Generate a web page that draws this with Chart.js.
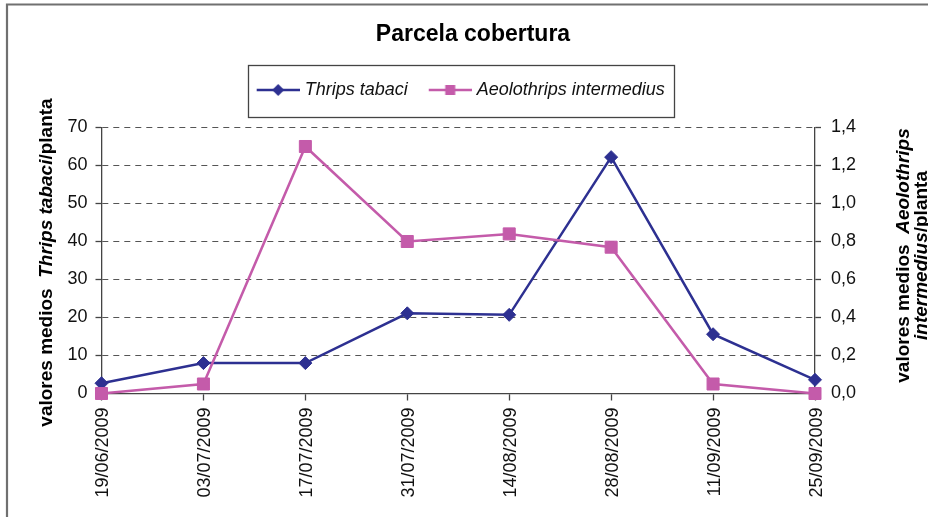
<!DOCTYPE html>
<html><head><meta charset="utf-8">
<script src="https://cdn.jsdelivr.net/npm/chart.js@4/dist/chart.umd.min.js"></script>
<style>html,body{margin:0;padding:0;background:#fff;}canvas{display:block;}</style>
</head><body>
<canvas id="c" width="928" height="517" style="width:928px;height:517px"></canvas>
<script>
// ---- data ----
const categories = ['19/06/2009','03/07/2009','17/07/2009','31/07/2009','14/08/2009','28/08/2009','11/09/2009','25/09/2009'];
const thripsTabaci = [2.7, 8.0, 8.0, 21.1, 20.7, 62.2, 15.6, 3.6];
const aeolothripsIntermedius = [0.0, 0.05, 1.30, 0.80, 0.84, 0.77, 0.05, 0.0];
const seriesNames = ['Thrips tabaci', 'Aeolothrips intermedius'];
const chartTitle = 'Parcela cobertura';
const leftAxisTitle = [['valores medios  ', false], ['Thrips tabaci', true], ['/planta', false]];
const rightAxisTitleLine1 = [['valores medios  ', false], ['Aeolothrips', true]];
const rightAxisTitleLine2 = [['intermedius', true], ['/planta', false]];

// ---- styles ----
const FONT = "'Liberation Sans', Arial, sans-serif";
const NAVY = '#2D3091';
const PINK = '#C45BAA';
const AXIS = '#444';

function legendIcon(color, shape) {
  const c = document.createElement('canvas');
  c.width = 52; c.height = 16;
  const g = c.getContext('2d');
  g.strokeStyle = color; g.lineWidth = 2.5;
  g.beginPath(); g.moveTo(9, 8); g.lineTo(52, 8); g.stroke();
  g.fillStyle = color;
  const mx = 30.5;
  if (shape === 'diamond') {
    g.beginPath(); g.moveTo(mx, 2); g.lineTo(mx + 6, 8); g.lineTo(mx, 14); g.lineTo(mx - 6, 8); g.closePath(); g.fill();
  } else {
    g.fillRect(mx - 5, 3, 10, 10);
  }
  return c;
}
const icons = [legendIcon(NAVY, 'diamond'), legendIcon(PINK, 'square')];
const colors = [NAVY, PINK];

const framePlugin = {
  id: 'frame',
  beforeDraw(chart) {
    const ctx = chart.ctx;
    ctx.save();
    ctx.fillStyle = '#fff';
    ctx.fillRect(0, 0, chart.width, chart.height);
    ctx.strokeStyle = '#707070';
    ctx.lineWidth = 2.2;
    ctx.beginPath();
    ctx.moveTo(7, chart.height);
    ctx.lineTo(7, 4.5);
    ctx.lineTo(chart.width, 4.5);
    ctx.stroke();
    ctx.restore();
  }
};

const legendBorderPlugin = {
  id: 'legendBorder',
  afterDraw(chart) {
    const hb = chart.legend && chart.legend.legendHitBoxes;
    if (!hb || !hb.length) return;
    const ctx = chart.ctx;
    const first = hb[0], last = hb[hb.length - 1];
    const cy = first.top + first.height / 2;
    const left = first.left - 4;
    const right = last.left + last.width + 9;
    ctx.save();
    ctx.strokeStyle = AXIS;
    ctx.lineWidth = 1.3;
    ctx.strokeRect(Math.round(left) + 0.5, Math.round(cy - 25) + 0.5, Math.round(right - left), 52);
    ctx.restore();
  }
};

function drawRotated(ctx, parts, cx, cy, size) {
  ctx.save();
  ctx.translate(cx, cy);
  ctx.rotate(-Math.PI / 2);
  ctx.textBaseline = 'middle';
  ctx.textAlign = 'left';
  ctx.fillStyle = '#000';
  let total = 0;
  const widths = parts.map(([t, it]) => {
    ctx.font = (it ? 'italic ' : '') + 'bold ' + size + 'px ' + FONT;
    const w = ctx.measureText(t).width; total += w; return w;
  });
  let x = -total / 2;
  parts.forEach(([t, it], i) => {
    ctx.font = (it ? 'italic ' : '') + 'bold ' + size + 'px ' + FONT;
    ctx.fillText(t, x, 0);
    x += widths[i];
  });
  ctx.restore();
}

const axisTitlePlugin = {
  id: 'axisTitles',
  afterDraw(chart) {
    const ctx = chart.ctx;
    const a = chart.chartArea;
    const mid = (a.top + a.bottom) / 2;
    drawRotated(ctx, leftAxisTitle, 46.5, mid + 2, 19);
    drawRotated(ctx, rightAxisTitleLine1, 903.5, mid - 5, 19);
    drawRotated(ctx, rightAxisTitleLine2, 921.5, mid - 5, 19);
  }
};

const tickFont = {size: 18, family: FONT};

new Chart(document.getElementById('c').getContext('2d'), {
  type: 'line',
  data: {
    labels: categories,
    datasets: [
      {
        label: seriesNames[0], data: thripsTabaci, yAxisID: 'y',
        borderColor: NAVY, backgroundColor: NAVY, borderWidth: 2.5,
        pointStyle: 'rectRot', pointRadius: 6.5, pointBorderWidth: 1,
        pointBackgroundColor: NAVY, pointBorderColor: NAVY,
        tension: 0, clip: false, order: 1
      },
      {
        label: seriesNames[1], data: aeolothripsIntermedius, yAxisID: 'y1',
        borderColor: PINK, backgroundColor: PINK, borderWidth: 2.5,
        pointStyle: 'rect', pointRadius: 8.5, pointBorderWidth: 1,
        pointBackgroundColor: PINK, pointBorderColor: PINK,
        tension: 0, clip: false, order: 0
      }
    ]
  },
  options: {
    responsive: false,
    animation: false,
    devicePixelRatio: 1,
    layout: {padding: {left: 18, right: 0, top: 0, bottom: 0}},
    plugins: {
      title: {
        display: true, text: chartTitle, color: '#000', fullSize: true,
        font: {size: 23, weight: 'bold', family: FONT},
        padding: {top: 21, bottom: 16.4}
      },
      legend: {
        display: true, position: 'top', fullSize: false,
        labels: {
          usePointStyle: true, pointStyleWidth: 44, padding: 16,
          font: {size: 18, style: 'italic', family: FONT}, color: '#111',
          generateLabels: () => [0, 1].map(i => ({
            text: seriesNames[i], fillStyle: colors[i], strokeStyle: colors[i],
            lineWidth: 0, pointStyle: icons[i], hidden: false, datasetIndex: i, fontColor: '#111'
          }))
        }
      },
      tooltip: {enabled: false}
    },
    scales: {
      x: {
        type: 'category', position: 'bottom', offset: false,
        grid: {display: true, drawOnChartArea: false, drawTicks: true, tickLength: 7, tickColor: AXIS, tickWidth: 1.3},
        border: {display: true, color: AXIS, width: 1.3},
        ticks: {autoSkip: false, minRotation: 90, maxRotation: 90, padding: 7, labelOffset: 2, font: tickFont, color: '#111'},
        afterFit: s => { s.height = 517 - 393.5; }
      },
      xTop: {
        type: 'category', position: 'top', display: true,
        grid: {display: false}, border: {display: false}, ticks: {display: false},
        afterFit: s => { s.height = 18.5; }
      },
      y: {
        position: 'left', min: 0, max: 70,
        ticks: {stepSize: 10, padding: 8, font: tickFont, color: '#111'},
        grid: {color: '#555', lineWidth: 1, drawTicks: true, tickLength: 6, tickColor: AXIS, tickWidth: 1.3},
        border: {display: true, color: AXIS, width: 1.3, dash: [6, 5]},
        afterFit: s => { s.width = 83.5; }
      },
      y1: {
        position: 'right', min: 0, max: 1.4,
        ticks: {stepSize: 0.2, padding: 10, font: tickFont, color: '#111',
          callback: v => Number(v).toFixed(1).replace('.', ',')},
        grid: {drawOnChartArea: false, drawTicks: true, tickLength: 6, tickColor: AXIS, tickWidth: 1.3},
        border: {display: true, color: AXIS, width: 1.3},
        afterFit: s => { s.width = 113; }
      }
    }
  },
  plugins: [framePlugin, legendBorderPlugin, axisTitlePlugin]
});
</script>
</body></html>
